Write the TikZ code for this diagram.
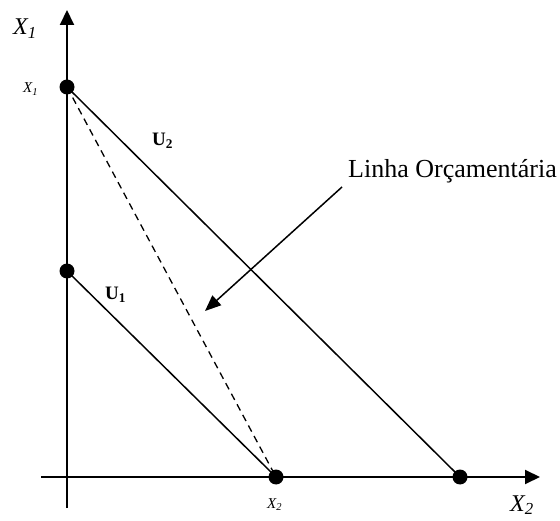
\documentclass[tikz,border=0pt]{standalone}
\usepackage{fontspec}
\setmainfont{Liberation Serif}
\usetikzlibrary{arrows.meta}
\begin{document}
\begin{tikzpicture}[x=1pt,y=-1pt,
  dot/.style={circle,fill=black,inner sep=0pt,minimum size=15pt},
  axis/.style={line width=2pt,-{Triangle[length=15pt,width=14pt]}},
  budget/.style={line width=1.5pt},
  dashline/.style={line width=1.3pt,dash pattern=on 7pt off 5pt},
  pointer/.style={line width=1.5pt,-{Triangle[length=16pt,width=13pt]}},
  lbl/.style={inner sep=0pt,anchor=base west}]
\useasboundingbox (0,0) rectangle (560,521);
\coordinate (ybot) at (67,508);
\coordinate (ytop) at (67,10);
\coordinate (xleft) at (41,477);
\coordinate (xright) at (540,477);
\draw[axis] (ybot) -- (ytop);
\draw[axis] (xleft) -- (xright);
\node[dot] (A) at (67,87) {};
\node[dot] (B) at (67,271) {};
\node[dot] (C) at (276,477) {};
\node[dot] (D) at (460,477) {};
\draw[budget] (A.center) -- (D.center);
\draw[budget] (B.center) -- (C.center);
\draw[dashline] (A.center) -- (C.center);
\node[lbl,font=\fontsize{24}{28}\selectfont\itshape] (bigx1) at (13,35) {X\textsubscript{1}};
\node[lbl,font=\fontsize{15}{18}\selectfont\itshape] (smx1) at (23,93) {X\textsubscript{1}};
\node[lbl,font=\fontsize{19}{22}\selectfont\bfseries] (u2) at (152,146) {U\textsubscript{2}};
\node[lbl,font=\fontsize{19}{22}\selectfont\bfseries] (u1) at (105,300) {U\textsubscript{1}};
\node[lbl,font=\fontsize{15}{18}\selectfont\itshape] (smx2) at (267,508) {X\textsubscript{2}};
\node[lbl,font=\fontsize{24}{28}\selectfont\itshape] (bigx2) at (510,511) {X\textsubscript{2}};
\node[lbl,font=\fontsize{26}{30}\selectfont] (linha) at (348,178) {Linha Orçamentária};
\coordinate (ps) at (342,187);
\coordinate (pe) at (205,311);
\draw[pointer] (ps) -- (pe);
\end{tikzpicture}
\end{document}
